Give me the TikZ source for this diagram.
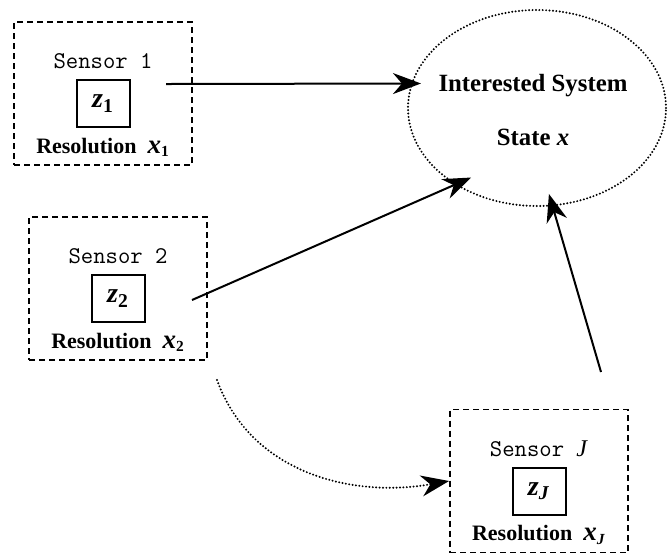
\documentclass[tikz,border=0pt]{standalone}
\usepackage{fontspec}
\setmainfont{Liberation Serif}
\usetikzlibrary{shapes.geometric,positioning,arrows.meta}

\newcommand{\bvar}[2]{{\fontsize{13.5}{15}\selectfont\textbf{\textit{#1}}}\textsubscript{\textbf{#2}}}

\begin{document}
\begin{tikzpicture}[x=0.5pt,y=-0.5pt,on grid,
  >={Stealth[length=14pt,width=10.5pt,inset=4.5pt]},
  sensor/.style={draw,line width=0.9pt,dash pattern=on 3pt off 2pt,
    minimum width=89pt,minimum height=71.5pt,inner sep=0pt},
  stext/.style={font=\ttfamily\fontsize{12}{14}\selectfont},
  meas/.style={draw,line width=1pt,minimum width=26.5pt,minimum height=23.5pt,
    inner sep=0pt,font=\bfseries\fontsize{14}{16}\selectfont},
  res/.style={font=\bfseries\fontsize{11}{12}\selectfont},
  dots/.style={line width=1.1pt,line cap=round,dash pattern=on 0pt off 1.7pt},
  sys/.style={ellipse,draw,dots,minimum width=129pt,
    minimum height=98pt,inner sep=0pt},
  systext/.style={align=center,font=\bfseries\fontsize{12.4}{15}\selectfont},
  link/.style={->,line width=1pt}]
\useasboundingbox (0,0) rectangle (669,554);

\node[sys] (sys) at (537,108) {};
\node[systext] (sys_t) at (533,110) {Interested System\\[12pt]State \textit{x}};

\node[sensor] (s_1) at (103,93.5) {};
\node[stext] (n_1) [above=16pt of s_1] {Sensor 1};
\node[meas]  (z_1) [below=5pt of s_1] {\textit{z}\textsubscript{1}};
\node[res]   (r_1) [below=27pt of s_1] {Resolution\enspace\bvar{x}{1}};

\node[sensor] (s_2) at (118,288.5) {};
\node[stext] (n_2) [above=16pt of s_2] {Sensor 2};
\node[meas]  (z_2) [below=5pt of s_2] {\textit{z}\textsubscript{2}};
\node[res]   (r_2) [below=27pt of s_2] {Resolution\enspace\bvar{x}{2}};

\node[sensor] (s_J) at (539,481) {};
\node[stext] (n_J) [above=16pt of s_J] {Sensor \textrm{\textit{J}}};
\node[meas]  (z_J) [below=5pt of s_J] {\textit{z}\textsubscript{\textit{J}}};
\node[res]   (r_J) [below=27pt of s_J] {Resolution\enspace\bvar{x}{\textit{J}}};

\coordinate (c_1) at (166,84);
\coordinate (c_2) at (192,300);
\coordinate (c_J) at (601,372);
\coordinate (d_2) at (217,380);

\path[link]
(c_1) edge [shorten >=-5pt] (sys.169)
(c_2) edge [shorten >=-9pt] (sys.223)
(c_J) edge [shorten >=-6.5pt] (sys.279)
(d_2) edge [dots, out=-70, in=190] (s_J.west)
; %end path
\end{tikzpicture}
\end{document}
